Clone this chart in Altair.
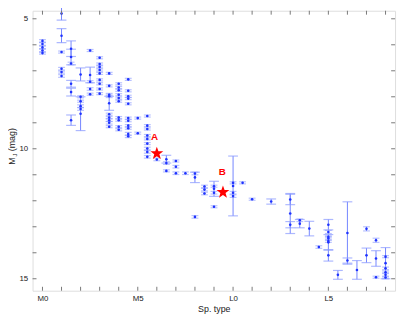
import altair as alt
import pandas as pd

# ---- data ----
sp = [0, 0, 0, 0, 0,
      1, 1, 1, 1, 1, 1,
      1.5, 1.5, 1.5, 1.5, 1.5, 1.5,
      2, 2, 2, 2, 2, 2,
      2.5, 2.5, 2.5, 2.5, 2.5,
      3, 3, 3, 3, 3, 3, 3, 3, 3,
      3.5, 3.5, 3.5, 3.5, 3.5, 3.5, 3.5, 3.5, 3.5, 3.5,
      4, 4, 4, 4, 4, 4, 4, 4, 4, 4,
      4.5, 4.5, 4.5, 4.5, 4.5, 4.5, 4.5, 4.5, 4.5, 4.5, 4.5,
      5, 5,
      5.5, 5.5, 5.5, 5.5, 5.5, 5.5, 5.5, 5.5, 5.5,
      6,
      6.5, 6.5, 6.5,
      7, 7, 7,
      7.5,
      8, 8, 8,
      8.5, 8.5, 8.5,
      9, 9, 9, 9,
      10, 10, 10, 10,
      10.5, 11, 12,
      13, 13, 13,
      13.5, 13.5,
      14, 14.5,
      15, 15, 15, 15, 15, 15, 15,
      15.5,
      16, 16,
      16.5,
      17, 17,
      17.5, 17.5, 17.5,
      18, 18, 18, 18, 18, 18]
mj = [5.85, 5.97, 6.1, 6.22, 6.32,
      4.8, 5.65, 6.28, 6.92, 7.05, 7.2,
      6.15, 6.47, 6.72, 7.5, 7.82, 8.9,
      7.14, 8.0, 8.17, 8.36, 8.47, 8.65,
      6.22, 7.16, 7.42, 7.7, 7.9,
      6.5, 6.74, 6.85, 6.97, 7.1, 7.35, 7.5, 7.7, 7.88,
      7.1, 7.58, 7.92, 7.98, 8.25, 8.67, 8.8, 8.9, 9.0, 9.15,
      7.5, 7.64, 7.75, 7.92, 8.05, 8.17, 8.8, 8.9, 9.15, 9.27,
      7.33, 7.77, 7.98, 8.07, 8.27, 8.82, 8.92, 9.11, 9.21, 9.43, 9.52,
      8.82, 9.4,
      8.74, 9.11, 9.24, 9.49, 9.62, 9.8, 9.99, 10.12, 10.31,
      10.41,
      10.4, 10.55, 10.85,
      10.47, 10.69, 10.94,
      10.94,
      10.95, 11.1, 12.62,
      11.45, 11.57, 11.72,
      11.54, 11.44, 11.69, 12.23,
      11.43, 11.31, 11.69, 11.82,
      11.31, 11.94, 12.03,
      12.49, 11.95, 12.92,
      12.88, 12.75,
      13.07, 13.78,
      12.92, 13.2, 13.39, 13.45, 13.55, 13.6, 14.1,
      14.85,
      13.24, 14.3,
      14.66,
      13.08, 14.1,
      13.52, 14.22, 14.94,
      14.4, 14.15, 14.6, 14.75, 14.85, 14.95]
err = [0.05, 0.05, 0.05, 0.05, 0.04,
       0.25, 0.27, 0.04, 0.05, 0.04, 0.05,
       0.3, 0.3, 0.05, 0.13, 0.15, 0.2,
       0.25, 0.04, 0.04, 0.05, 0.05, 0.65,
       0.04, 0.3, 0.04, 0.05, 0.04,
       0.04, 0.04, 0.04, 0.04, 0.04, 0.04, 0.04, 0.04, 0.04,
       0.04, 0.04, 0.05, 0.05, 0.27, 0.04, 0.04, 0.05, 0.05, 0.04,
       0.04, 0.04, 0.04, 0.04, 0.04, 0.04, 0.04, 0.04, 0.04, 0.04,
       0.04, 0.04, 0.04, 0.04, 0.04, 0.04, 0.04, 0.04, 0.04, 0.06, 0.05,
       0.04, 0.04,
       0.04, 0.04, 0.04, 0.04, 0.04, 0.04, 0.05, 0.05, 0.05,
       0.05,
       0.15, 0.05, 0.04,
       0.04, 0.05, 0.05,
       0.05,
       0.05, 0.2, 0.05,
       0.05, 0.05, 0.05,
       0.29, 0.04, 0.05, 0.04,
       1.15, 0.04, 0.05, 0.05,
       0.04, 0.04, 0.1,
       0.77, 0.2, 0.12,
       0.16, 0.05,
       0.28, 0.05,
       0.2, 0.06, 0.04, 0.07, 0.05, 0.3, 0.22,
       0.17,
       1.2, 0.1,
       0.36,
       0.08, 0.28,
       0.08, 0.3, 0.04,
       0.6, 0.04, 0.05, 0.05, 0.08, 0.05]

star_names = ["A", "B"]
star_sp = [6.0, 9.47]
star_mj = [10.18, 11.67]
label_sp = [5.88, 9.43]
label_mj = [9.53, 10.89]

x_ticks = list(range(0, 19))
y_ticks = list(range(5, 16))
x_label_values = [0, 5, 10, 15]
x_label_names = ["M0", "M5", "L0", "L5"]
y_label_values = [5, 10, 15]

# ---- tables ----
df = pd.DataFrame({"sp": sp, "mj": mj, "err": err})
df["lo"] = df["mj"] - df["err"]
df["hi"] = df["mj"] + df["err"]
caps = pd.DataFrame({"sp": list(df["sp"]) * 2,
                     "y": list(df["lo"]) + list(df["hi"]),
                     "err": list(df["err"]) * 2})
stars = pd.DataFrame({"name": star_names, "sp": star_sp, "mj": star_mj,
                      "lsp": label_sp, "lmj": label_mj})
xt = pd.DataFrame({"t": x_ticks})
yt = pd.DataFrame({"t": y_ticks})

W, H = 369, 285
xscale = alt.Scale(domain=[-0.52, 18.5], nice=False, zero=False)
yscale = alt.Scale(domain=[4.69, 15.46], reverse=True, nice=False, zero=False)
FONT = "Liberation Sans"

label_expr = " : ".join(
    f"datum.value == {v} ? '{n}'" for v, n in zip(x_label_values, x_label_names)
) + " : ''"

xaxis = alt.Axis(values=x_label_values, labelExpr=label_expr, ticks=False, domain=False,
                 grid=False, labelFontSize=8, labelFont=FONT, labelColor="#222",
                 labelPadding=4, title="Sp. type", titleFont=FONT, titleFontSize=9,
                 titleFontWeight="normal", titleColor="#222", titlePadding=2)
yaxis = alt.Axis(values=y_label_values, ticks=False, domain=False, grid=False,
                 labelFontSize=8, labelFont=FONT, labelColor="#222", labelPadding=5,
                 title=None)

base = alt.Chart(df)

bars = base.mark_rule(color="#7284ff", strokeWidth=1).encode(
    x=alt.X("sp:Q", scale=xscale, axis=xaxis),
    y=alt.Y("lo:Q", scale=yscale, axis=yaxis),
    y2="hi:Q",
)
cap_small = alt.Chart(caps).transform_filter("datum.err < 0.1").mark_tick(
    orient="horizontal", size=7, thickness=1.2, color="#8a9aff", opacity=0.6).encode(
    x=alt.X("sp:Q", scale=xscale), y=alt.Y("y:Q", scale=yscale))
cap_big = alt.Chart(caps).transform_filter("datum.err >= 0.1").mark_tick(
    orient="horizontal", size=10, thickness=1.2, color="#8a9aff", opacity=0.7).encode(
    x=alt.X("sp:Q", scale=xscale), y=alt.Y("y:Q", scale=yscale))
pts = base.mark_circle(size=7, color="#1f33ff", opacity=1).encode(
    x=alt.X("sp:Q", scale=xscale), y=alt.Y("mj:Q", scale=yscale))

star_path = ("M0,-1L0.235,-0.324L0.951,-0.309L0.38,0.124L0.588,0.809L0,0.4"
             "L-0.588,0.809L-0.38,0.124L-0.951,-0.309L-0.235,-0.324Z")
star_mark = alt.Chart(stars).mark_point(shape=star_path, size=190, filled=True,
                                        color="#ff0000", opacity=1, strokeWidth=0).encode(
    x=alt.X("sp:Q", scale=xscale), y=alt.Y("mj:Q", scale=yscale))
star_txt = alt.Chart(stars).mark_text(color="#ff0000", fontSize=10, fontWeight="bold",
                                      font=FONT).encode(
    x=alt.X("lsp:Q", scale=xscale), y=alt.Y("lmj:Q", scale=yscale), text="name:N")

tcol = "#777"
tick_b = alt.Chart(xt).mark_rule(color=tcol, strokeWidth=1).encode(
    x=alt.X("t:Q", scale=xscale), y=alt.value(H), y2=alt.value(H - 4))
tick_t = alt.Chart(xt).mark_rule(color=tcol, strokeWidth=1).encode(
    x=alt.X("t:Q", scale=xscale), y=alt.value(0), y2=alt.value(4))
tick_l = alt.Chart(yt).mark_rule(color=tcol, strokeWidth=1).encode(
    y=alt.Y("t:Q", scale=yscale), x=alt.value(0), x2=alt.value(4))
tick_r = alt.Chart(yt).mark_rule(color=tcol, strokeWidth=1).encode(
    y=alt.Y("t:Q", scale=yscale), x=alt.value(W), x2=alt.value(W - 4))

ytitle_df = pd.DataFrame({"t": ["M"]})
ttl_m = alt.Chart(ytitle_df).mark_text(angle=270, fontSize=9, font=FONT, color="#222",
                                       align="center", baseline="middle").encode(
    x=alt.value(-21), y=alt.value(153), text=alt.value("M"))
ttl_j = alt.Chart(ytitle_df).mark_text(angle=270, fontSize=6, font=FONT, color="#222",
                                       align="center", baseline="middle").encode(
    x=alt.value(-18), y=alt.value(147), text=alt.value("J"))
ttl_mag = alt.Chart(ytitle_df).mark_text(angle=270, fontSize=9, font=FONT, color="#222",
                                         align="left", baseline="middle").encode(
    x=alt.value(-21), y=alt.value(143), text=alt.value("(mag)"))

chart = alt.layer(
    bars, cap_small, cap_big, pts, star_mark, star_txt, tick_b, tick_t, tick_l, tick_r,
    ttl_m, ttl_j, ttl_mag
).properties(
    width=W, height=H,
    autosize=alt.AutoSizeParams(type="none"),
    padding={"left": 25, "top": 0, "right": 4, "bottom": 26},
).configure_view(
    stroke="#666", strokeWidth=1.5
).configure(background="white")

chart.save("out.html", embed_options={"renderer": "svg", "actions": False})
